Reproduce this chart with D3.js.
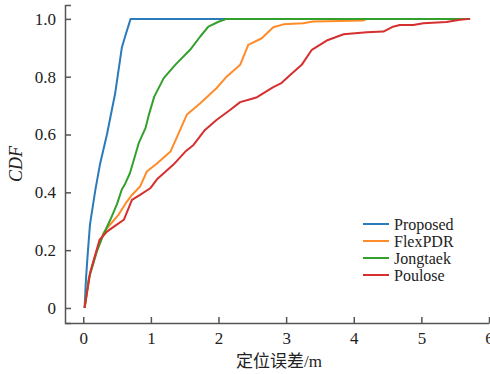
<!DOCTYPE html>
<html>
<head>
<meta charset="utf-8">
<script src="https://cdn.jsdelivr.net/npm/d3@7"></script>
<style>
  body { margin: 0; background: #fff; }
  .axis path, .axis line { stroke: #555; stroke-width: 1.5; }
  .axis text { font-family: "Liberation Serif", "DejaVu Serif", serif; font-size: 17px; fill: #222; }
</style>
</head>
<body>
<div id="chart"></div>
<script>
// series names and colours
var names = ["Proposed", "FlexPDR", "Jongtaek", "Poulose"];
var colors = ["#2b7bba", "#ff8c2a", "#33a02c", "#d62f2f"];

// positioning error (m) and CDF
var errProposed = [0.02, 0.04, 0.07, 0.10, 0.18, 0.25, 0.35, 0.47, 0.57, 0.62, 0.70, 5.72];
var cdfProposed = [0, 0.10, 0.20, 0.29, 0.41, 0.50, 0.60, 0.74, 0.90, 0.94, 1.0, 1.0];

var errFlex = [0.02, 0.10, 0.20, 0.30, 0.37, 0.52, 0.645, 0.72, 0.84, 0.94, 1.09, 1.29, 1.41, 1.53, 1.73, 1.97, 2.12, 2.32, 2.44, 2.64, 2.81, 2.96, 3.25, 3.40, 3.80, 4.14, 4.19, 5.72];
var cdfFlex = [0, 0.12, 0.20, 0.26, 0.281, 0.322, 0.368, 0.391, 0.42, 0.472, 0.50, 0.541, 0.604, 0.668, 0.708, 0.76, 0.80, 0.841, 0.91, 0.933, 0.971, 0.981, 0.985, 0.991, 0.993, 0.994, 1.0, 1.0];

var errJong = [0.02, 0.08, 0.15, 0.20, 0.30, 0.40, 0.50, 0.57, 0.62, 0.69, 0.82, 0.92, 0.97, 1.05, 1.19, 1.36, 1.58, 1.73, 1.85, 2.00, 2.12, 5.72];
var cdfJong = [0, 0.10, 0.155, 0.195, 0.255, 0.305, 0.36, 0.41, 0.43, 0.466, 0.57, 0.622, 0.668, 0.731, 0.795, 0.841, 0.893, 0.939, 0.973, 0.99, 1.0, 1.0];

var errPoul = [0.02, 0.10, 0.24, 0.35, 0.47, 0.60, 0.72, 0.84, 0.99, 1.09, 1.33, 1.51, 1.63, 1.80, 1.97, 2.17, 2.32, 2.47, 2.57, 2.81, 2.93, 3.06, 3.23, 3.38, 3.60, 3.85, 4.19, 4.44, 4.58, 4.68, 4.88, 5.03, 5.37, 5.57, 5.72];
var cdfPoul = [0, 0.12, 0.235, 0.264, 0.284, 0.305, 0.374, 0.391, 0.414, 0.445, 0.495, 0.541, 0.564, 0.616, 0.65, 0.685, 0.712, 0.722, 0.729, 0.764, 0.778, 0.806, 0.841, 0.893, 0.925, 0.947, 0.954, 0.956, 0.973, 0.979, 0.979, 0.985, 0.989, 0.997, 1.0];

var xTicks = [0, 1, 2, 3, 4, 5, 6];
var yTicks = [0, 0.2, 0.4, 0.6, 0.8, 1.0];

var width = 490, height = 374;

var series = [
  {name: names[0], color: colors[0], x: errProposed, y: cdfProposed},
  {name: names[1], color: colors[1], x: errFlex, y: cdfFlex},
  {name: names[2], color: colors[2], x: errJong, y: cdfJong},
  {name: names[3], color: colors[3], x: errPoul, y: cdfPoul}
];

var x = d3.scaleLinear().domain([-0.27, 6]).range([65, 489]);
var y = d3.scaleLinear().domain([-0.052, 1.048]).range([323, 5]);

var svg = d3.select("#chart").append("svg")
    .attr("width", width)
    .attr("height", height);

svg.append("g")
    .attr("class", "x axis")
    .attr("transform", "translate(0,323)")
    .call(d3.axisBottom(x).tickValues(xTicks).tickSizeInner(-6).tickSizeOuter(0).tickPadding(9).tickFormat(d3.format("d")));

svg.append("g")
    .attr("class", "y axis")
    .attr("transform", "translate(65,0)")
    .call(d3.axisLeft(y).tickValues(yTicks).tickSizeInner(-6).tickSizeOuter(-6).tickPadding(9)
      .tickFormat(function(d) { return d === 0 ? "0" : d3.format(".1f")(d); }));

var line = d3.line()
    .x(function(d) { return x(d[0]); })
    .y(function(d) { return y(d[1]); });

svg.selectAll(".cdf")
    .data(series)
    .enter().append("path")
    .attr("class", "cdf")
    .attr("fill", "none")
    .attr("stroke", function(d) { return d.color; })
    .attr("stroke-width", 2)
    .attr("stroke-linejoin", "round")
    .attr("d", function(d) { return line(d.x.map(function(v, i) { return [v, d.y[i]]; })); });

// axis titles
svg.append("text")
    .attr("transform", "translate(22,164) rotate(-90)")
    .attr("text-anchor", "middle")
    .style("font-family", "'Liberation Serif', serif")
    .style("font-style", "italic")
    .style("font-size", "18px")
    .style("fill", "#222")
    .text("CDF");

svg.append("text")
    .attr("x", 279)
    .attr("y", 367)
    .attr("text-anchor", "middle")
    .style("font-family", "'Liberation Serif', 'Noto Sans CJK SC', serif")
    .style("font-size", "17px")
    .style("fill", "#222")
    .text("定位误差/m");

// legend
var legend = svg.selectAll(".legend")
    .data(series)
    .enter().append("g")
    .attr("class", "legend")
    .attr("transform", function(d, i) { return "translate(363," + (224 + i * 17) + ")"; });

legend.append("line")
    .attr("x1", 0).attr("x2", 26)
    .attr("stroke", function(d) { return d.color; })
    .attr("stroke-width", 2);

legend.append("text")
    .attr("x", 31)
    .attr("y", 5.5)
    .style("font-family", "'Liberation Serif', serif")
    .style("font-size", "16px")
    .style("fill", "#222")
    .text(function(d) { return d.name; });
</script>
</body>
</html>
